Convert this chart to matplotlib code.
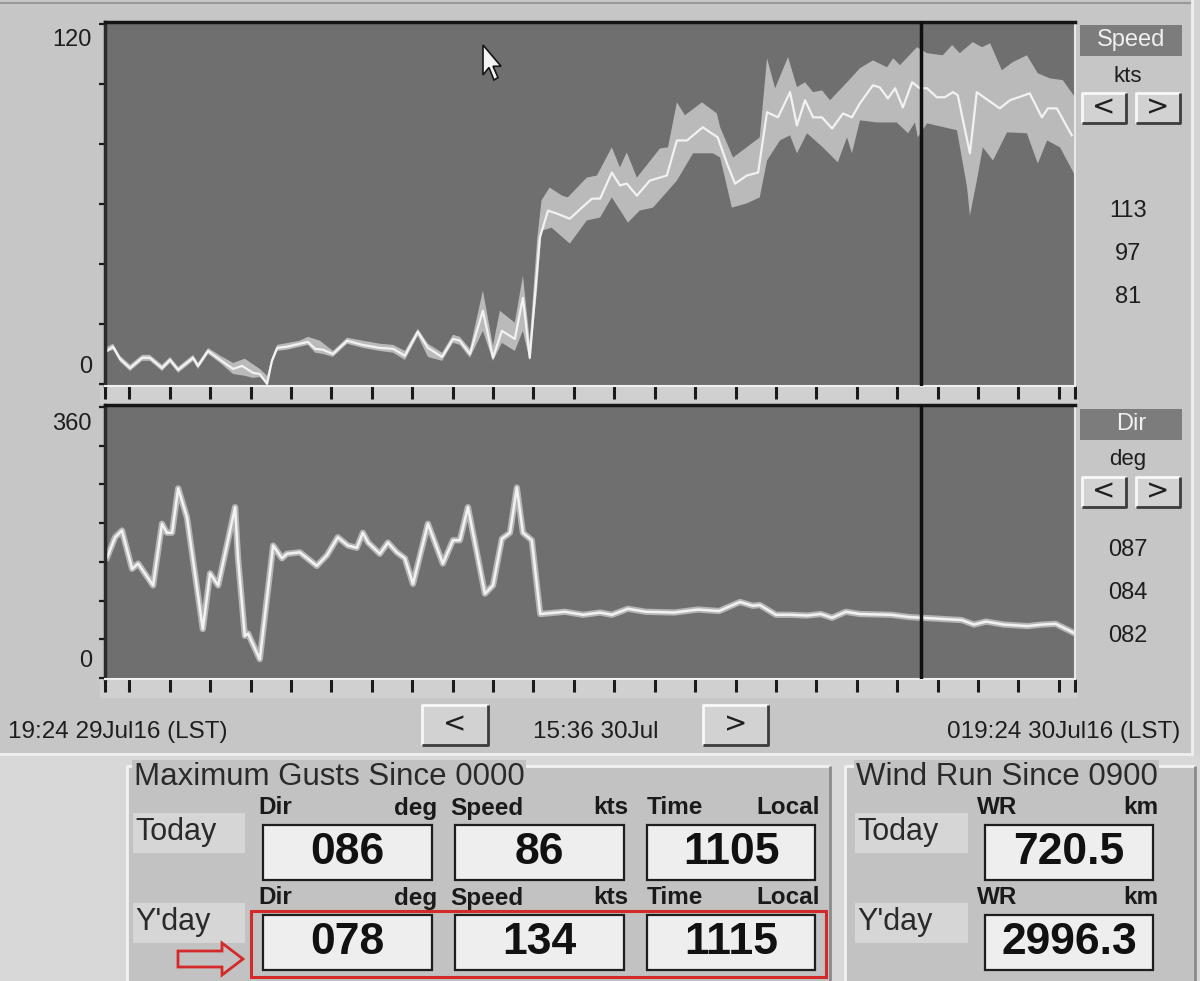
import matplotlib
matplotlib.use("Agg")
import matplotlib.pyplot as plt
from matplotlib.patches import Rectangle, Polygon
import numpy as np

plt.rcParams['font.family'] = ['Liberation Sans', 'DejaVu Sans']

# ---------------- data (hours since 19:24 29Jul16) ----------------
speed_hours = [0.05, 0.20, 0.37, 0.62, 0.92, 1.11, 1.41, 1.61, 1.81, 2.18, 2.30, 2.55, 2.85,
               3.17, 3.39, 3.66, 3.83, 4.01, 4.13, 4.26, 4.50, 4.82, 5.02, 5.20, 5.39, 5.64,
               5.99, 6.38, 6.80, 7.13, 7.42, 7.74, 7.99, 8.34, 8.61, 8.78, 9.03, 9.35, 9.60,
               9.82, 10.14, 10.34, 10.51, 10.69, 10.76, 10.96, 11.18, 11.50, 11.80, 12.05,
               12.25, 12.54, 12.74, 12.91, 13.16, 13.48, 13.90, 14.15, 14.40, 14.79, 15.16,
               15.39, 15.59, 15.88, 16.16, 16.38, 16.65, 16.95, 17.12, 17.32, 17.52, 17.74,
               17.99, 18.26, 18.48, 18.68, 19.00, 19.17, 19.37, 19.55, 19.74, 19.97, 20.16,
               20.34, 20.58, 20.78, 20.98, 21.10, 21.28, 21.40, 21.57, 21.85, 22.14, 22.39,
               22.88, 23.18, 23.33, 23.55, 23.92]
speed_kts = [11.0, 12.4, 8.4, 5.3, 8.7, 8.7, 5.3, 8.0, 4.7, 8.7, 6.0, 11.0, 8.0,
             5.0, 6.0, 3.7, 3.3, 0.0, 7.7, 12.0, 12.4, 13.4, 14.0, 11.7, 11.4, 10.0,
             14.4, 13.0, 12.0, 11.7, 9.4, 17.4, 12.0, 9.0, 15.0, 14.4, 10.0, 24.4, 8.7,
             17.7, 15.0, 28.7, 8.7, 37.8, 48.8, 57.8, 56.8, 55.1, 58.8, 61.8,
             61.8, 70.5, 66.2, 66.8, 62.8, 67.8, 69.5, 81.2, 81.2, 85.6, 82.2,
             73.5, 66.8, 69.5, 70.5, 90.6, 88.9, 97.3, 86.2, 94.6, 88.9, 88.9,
             85.2, 90.2, 88.9, 93.6, 99.6, 98.9, 95.2, 98.6, 92.2, 100.6, 98.6,
             98.6, 95.6, 95.6, 97.3, 96.3, 84.6, 76.9, 97.3, 94.6, 91.9, 94.6,
             96.9, 88.9, 91.9, 91.9, 82.9]

gust_hi_hours = [0.0, 0.20, 0.37, 0.62, 0.92, 1.11, 1.41, 1.61, 1.81, 2.18, 2.30, 2.55, 2.85,
                 3.17, 3.46, 3.83, 4.01, 4.13, 4.26, 4.82, 5.02, 5.32, 5.64, 5.99, 6.38,
                 6.80, 7.13, 7.42, 7.74, 7.99, 8.34, 8.61, 8.78, 9.03, 9.35, 9.60, 9.77,
                 10.14, 10.34, 10.51, 10.69, 10.80, 11.00, 11.31, 11.45, 11.92, 12.17,
                 12.54, 12.74, 12.91, 13.16, 13.73, 13.93, 14.15, 14.35, 14.77, 15.14,
                 15.22, 15.54, 16.20, 16.38, 16.58, 16.90, 17.12, 17.32, 17.52, 17.74,
                 17.94, 18.36, 18.68, 19.00, 19.35, 19.50, 19.67, 20.09, 20.34, 20.73,
                 20.96, 21.15, 21.47, 21.70, 21.90, 22.19, 22.46, 22.81, 23.08, 23.38,
                 23.70, 24.00]
gust_hi_kts = [12.0, 13.4, 9.4, 6.4, 9.7, 9.7, 6.4, 9.0, 5.7, 9.7, 7.0, 12.0, 9.4,
               7.0, 8.4, 5.0, 2.7, 8.7, 13.0, 14.4, 15.7, 14.4, 11.0, 15.4, 14.4,
               13.4, 13.0, 11.0, 18.4, 13.4, 10.4, 16.4, 15.7, 11.7, 31.1, 12.7, 24.4,
               20.4, 36.1, 14.4, 47.8, 61.2, 65.5, 62.8, 62.2, 68.8, 69.5,
               78.9, 72.2, 77.2, 68.8, 78.5, 78.9, 93.9, 89.6, 93.9, 90.2,
               85.6, 75.5, 82.2, 108.6, 98.6, 109.0, 99.0, 100.6, 97.3, 97.9,
               94.6, 100.6, 105.3, 107.9, 105.6, 108.6, 106.3, 112.3, 110.3, 109.6,
               113.0, 110.3, 114.0, 112.3, 113.6, 104.6, 107.3, 109.6, 103.6, 101.9,
               101.3, 95.6]

gust_lo_hours = [0.0, 0.20, 0.37, 0.62, 0.92, 1.11, 1.41, 1.61, 1.81, 2.18, 2.30, 2.55, 2.85,
                 3.17, 3.46, 3.66, 3.83, 4.01, 4.13, 4.26, 4.50, 4.82, 5.02, 5.20, 5.39,
                 5.64, 5.99, 6.38, 6.80, 7.13, 7.42, 7.74, 7.99, 8.34, 8.61, 8.78, 9.03,
                 9.35, 9.60, 9.82, 10.14, 10.34, 10.51, 10.69, 10.80, 11.05, 11.50, 11.92,
                 12.25, 12.54, 12.94, 13.23, 13.56, 14.15, 14.55, 15.04, 15.22, 15.51,
                 15.88, 16.20, 16.38, 16.70, 16.95, 17.12, 17.37, 17.76, 18.13, 18.36,
                 18.48, 18.68, 19.10, 19.59, 19.87, 20.04, 20.11, 20.34, 21.08, 21.33,
                 21.40, 21.57, 21.72, 21.97, 22.32, 22.81, 23.08, 23.31, 23.63, 24.00]
gust_lo_kts = [10.4, 11.4, 7.4, 4.3, 7.7, 7.7, 4.3, 7.0, 3.7, 7.7, 5.0, 10.0, 7.0,
               3.3, 2.7, 2.0, 2.3, 0.0, 6.7, 11.0, 11.4, 12.4, 13.0, 10.4, 10.0,
               9.0, 13.4, 12.0, 11.0, 10.4, 8.0, 16.0, 9.0, 7.7, 13.7, 13.0, 8.7,
               17.7, 7.7, 13.7, 11.0, 17.7, 7.7, 31.1, 51.1, 52.1, 46.8, 54.5,
               55.5, 62.2, 53.8, 57.8, 58.8, 67.8, 76.9, 76.9, 75.5, 58.8,
               60.2, 62.2, 74.5, 81.2, 82.9, 76.9, 83.6, 78.9, 73.9, 82.2,
               76.9, 87.9, 87.2, 87.2, 83.6, 87.2, 82.2, 86.9, 84.6, 65.5,
               56.1, 67.8, 78.9, 74.5, 83.9, 83.6, 73.5, 81.2, 78.9, 69.5]

dir_hours = [0.05, 0.25, 0.42, 0.67, 0.82, 1.19, 1.41, 1.53, 1.66, 1.81, 2.03, 2.42, 2.60,
             2.80, 3.22, 3.29, 3.46, 3.54, 3.83, 4.16, 4.38, 4.50, 4.82, 5.24, 5.49, 5.76,
             6.01, 6.23, 6.38, 6.51, 6.80, 7.00, 7.22, 7.42, 7.62, 7.99, 8.36, 8.61, 8.78,
             8.98, 9.40, 9.60, 9.82, 10.02, 10.19, 10.34, 10.56, 10.76, 10.77, 11.38,
             11.83, 12.25, 12.54, 12.94, 13.38, 14.08, 14.67, 15.19, 15.71, 16.03,
             16.20, 16.60, 16.97, 17.37, 17.71, 17.99, 18.33, 18.68, 19.45, 19.89,
             21.20, 21.50, 21.80, 22.24, 22.83, 23.18, 23.52, 23.97]
dir_deg = [160, 187, 196, 145, 152, 123, 205, 193, 193, 252, 213, 65, 139,
           123, 227, 160, 56, 59, 25, 176, 159, 165, 167, 149, 163, 187,
           176, 173, 193, 180, 165, 180, 167, 159, 125, 205, 152, 183, 183,
           227, 112, 123, 185, 193, 253, 193, 183, 89, 85, 88,
           84, 87, 84, 92, 88, 87, 91, 89, 101, 96,
           97, 84, 84, 83, 85, 80, 88, 85, 84, 81,
           77, 71, 75, 71, 69, 71, 72, 60]

cursor_hour = 20.2
hour_marks = [0.0, 0.6, 1.6, 2.6, 3.6, 4.6, 5.6, 6.6, 7.6, 8.6, 9.6, 10.6, 11.6, 12.6,
              13.6, 14.6, 15.6, 16.6, 17.6, 18.6, 19.6, 20.6, 21.6, 22.6, 23.6, 24.0]

start_label = "19:24 29Jul16 (LST)"
cursor_label = "15:36 30Jul"
end_label = "019:24 30Jul16 (LST)"
speed_scale_labels = ["113", "97", "81"]
dir_scale_labels = ["087", "084", "082"]
gust_headers = [("Dir", "deg"), ("Speed", "kts"), ("Time", "Local")]
gust_today = ["086", "86", "1105"]
gust_yday = ["078", "134", "1115"]
windrun_today = "720.5"
windrun_yday = "2996.3"

# ---------------- layout helpers ----------------
W, H = 1200, 981
fig = plt.figure(figsize=(W / 100, H / 100), dpi=100)
fig.patch.set_facecolor('#d4d4d4')

ov = fig.add_axes([0, 0, 1, 1], zorder=0)
ov.set_xlim(0, W)
ov.set_ylim(H, 0)
ov.axis('off')


def rect(x0, y0, x1, y1, fc, ec='none', lw=0, z=1):
    ov.add_patch(Rectangle((x0, y0), x1 - x0, y1 - y0, fc=fc, ec=ec, lw=lw, zorder=z))


def bevel(x0, y0, x1, y1, light='#f4f4f4', dark='#505050', lw=1.5, z=3):
    ov.plot([x0, x0, x1], [y1, y0, y0], color=light, lw=lw, zorder=z, solid_capstyle='butt')
    ov.plot([x0, x1, x1], [y1, y1, y0], color=dark, lw=lw, zorder=z, solid_capstyle='butt')


def button(x0, y0, x1, y1, label):
    rect(x0, y0, x1, y1, '#d2d2d2', z=2)
    bevel(x0, y0, x1, y1, light='#f8f8f8', dark='#3c3c3c', lw=2)
    ov.text((x0 + x1) / 2, (y0 + y1) / 2 - 1, label, ha='center', va='center',
            fontsize=20, color='#202020', family=['DejaVu Sans'], zorder=4)


def px_axes(x0, y0, x1, y1):
    return fig.add_axes([x0 / W, 1 - y1 / H, (x1 - x0) / W, (y1 - y0) / H], zorder=2)


# ---------------- window backgrounds ----------------
rect(0, 0, 1192, 754, '#c6c6c6', z=0)
ov.plot([0, 1192], [3, 3], color='#9a9a9a', lw=1.5, zorder=1)
ov.plot([1192, 1192], [0, 754], color='#f0f0f0', lw=2, zorder=1)
ov.plot([0, 1192], [754, 754], color='#f0f0f0', lw=2, zorder=1)
# tick strips
rect(100, 386, 1078, 404, '#d0d0d0', z=1)
rect(100, 679, 1078, 698, '#d0d0d0', z=1)

PANEL = '#6f6f6f'
BAND = '#bababa'
LINE = '#f2f2f2'

# ---------------- speed panel ----------------
axs = px_axes(105, 22, 1075, 386)
axs.set_facecolor(PANEL)
axs.fill(np.concatenate([gust_hi_hours, gust_lo_hours[::-1]]),
         np.concatenate([gust_hi_kts, gust_lo_kts[::-1]]), color=BAND, lw=0, zorder=1)
axs.plot(speed_hours, speed_kts, color=LINE, lw=1.6, zorder=2)
axs.axvline(cursor_hour, color='#101010', lw=2.5, zorder=3)
axs.set_xlim(0, 24)
axs.set_ylim(-0.7, 120.7)

# ---------------- direction panel ----------------
axd = px_axes(105, 405, 1075, 679)
axd.set_facecolor(PANEL)
axd.plot(dir_hours, dir_deg, color='#b4b4b4', lw=4.5, zorder=1, solid_joinstyle='round')
axd.plot(dir_hours, dir_deg, color=LINE, lw=1.8, zorder=2)
axd.axvline(cursor_hour, color='#101010', lw=2.5, zorder=3)
axd.set_xlim(0, 24)
axd.set_ylim(-1.3, 362.7)

for ax, yt in ((axs, np.arange(0, 121, 20)), (axd, np.linspace(0, 360, 8))):
    ax.set_xticks(hour_marks)
    ax.set_yticks(yt)
    ax.tick_params(axis='x', direction='out', length=9, width=2.2, color='#1a1a1a',
                   labelbottom=False, pad=0)
    ax.tick_params(axis='y', direction='out', length=4, width=1.6, color='#1a1a1a',
                   labelleft=False)
    ax.spines['top'].set_color('#151515')
    ax.spines['top'].set_linewidth(2.5)
    ax.spines['left'].set_color('#2a2a2a')
    ax.spines['left'].set_linewidth(2.5)
    ax.spines['right'].set_color('#e8e8e8')
    ax.spines['right'].set_linewidth(1.5)
    ax.spines['bottom'].set_color('#f0f0f0')
    ax.spines['bottom'].set_linewidth(1.5)

# mouse cursor (drawn in pixel space on top of the speed panel)
cur = np.array([[0, 0], [0, 24], [6, 18], [11, 28], [15, 26], [10, 17], [18, 17]], float)
cur[:, 0] += 483
cur[:, 1] = cur[:, 1] * 1.25 + 45
axs.add_patch(Polygon(cur, closed=True, fc='#f4f4f4', ec='#151515', lw=1.2,
                      transform=ov.transData, zorder=5))

# axis end labels
for txt, y in (("120", 40), ("0", 367), ("360", 424), ("0", 661)):
    ov.text(92, y, txt, ha='right', va='center', fontsize=17, color='#1e1e1e', zorder=3)

# ---------------- right side controls ----------------
for (label, unit, ytop, nums, ynums) in (("Speed", "kts", 25, speed_scale_labels, [211, 254, 297]),
                                         ("Dir", "deg", 409, dir_scale_labels, [550, 593, 636])):
    rect(1080, ytop, 1182, ytop + 31, '#7c7c7c', z=2)
    ov.text(1131, ytop + 15, label, ha='center', va='center', fontsize=17,
            color='#f0f0f0', zorder=3)
    ov.text(1128, ytop + 51, unit, ha='center', va='center', fontsize=16,
            color='#1e1e1e', zorder=3)
    button(1082, ytop + 68, 1126, ytop + 98, '<')
    button(1136, ytop + 68, 1180, ytop + 98, '>')
    for t, yy in zip(nums, ynums):
        ov.text(1128, yy, t, ha='center', va='center', fontsize=17,
                color='#1e1e1e', zorder=3)

# ---------------- time navigation row ----------------
ov.text(8, 732, start_label, ha='left', va='center', fontsize=17.5, color='#1e1e1e', zorder=3)
ov.text(596, 732, cursor_label, ha='center', va='center', fontsize=17.5, color='#1e1e1e', zorder=3)
ov.text(1180, 732, end_label, ha='right', va='center', fontsize=17.5, color='#1e1e1e', zorder=3)
button(422, 705, 488, 745, '<')
button(703, 705, 768, 745, '>')

# ---------------- bottom info panels ----------------
rect(0, 756, W, H, '#d8d8d8', z=0)
rect(127, 766, 830, H, '#c2c2c2', z=1)
bevel(127, 766, 830, H + 5, light='#f2f2f2', dark='#8a8a8a', lw=2, z=2)
rect(845, 766, 1195, H, '#c2c2c2', z=1)
bevel(845, 766, 1195, H + 5, light='#f2f2f2', dark='#8a8a8a', lw=2, z=2)

ov.text(134, 777, "Maximum Gusts Since 0000", ha='left', va='center', fontsize=22.5,
        color='#2a2a2a', zorder=4,
        bbox=dict(boxstyle='square,pad=0.05', fc='#c2c2c2', ec='none'))
ov.text(856, 777, "Wind Run Since 0900", ha='left', va='center', fontsize=22.5,
        color='#2a2a2a', zorder=4,
        bbox=dict(boxstyle='square,pad=0.05', fc='#c2c2c2', ec='none'))

for x0, x1 in ((133, 245), (855, 968)):
    rect(x0, 813, x1, 853, '#d6d6d6', z=2)
    rect(x0, 903, x1, 943, '#d6d6d6', z=2)
    ov.text(x0 + 2, 832, "Today", ha='left', va='center', fontsize=22, color='#2a2a2a', zorder=3)
    ov.text(x0 + 2, 922, "Y'day", ha='left', va='center', fontsize=22, color='#2a2a2a', zorder=3)

col_x = [(258, 437, 263, 432), (450, 628, 455, 624), (647, 820, 647, 815)]
for (hl, hr, bl, br), (h1, h2), v_t, v_y in zip(col_x, gust_headers, gust_today, gust_yday):
    for yh, yb, val in ((808, 825, v_t), (898, 915, v_y)):
        ov.text(hl, yh, h1, ha='left', va='center', fontsize=17.5, fontweight='bold',
                color='#1a1a1a', zorder=3)
        ov.text(hr, yh, h2, ha='right', va='center', fontsize=17.5, fontweight='bold',
                color='#1a1a1a', zorder=3)
        rect(bl, yb, br, yb + 55, '#eeeeee', ec='#1e1e1e', lw=1.6, z=2)
        ov.text((bl + br) / 2, yb + 28, val, ha='center', va='center', fontsize=32,
                fontweight='bold', color='#111111', zorder=3)

for yh, yb, val in ((808, 825, windrun_today), (898, 915, windrun_yday)):
    ov.text(977, yh, "WR", ha='left', va='center', fontsize=17.5, fontweight='bold',
            color='#1a1a1a', zorder=3)
    ov.text(1158, yh, "km", ha='right', va='center', fontsize=17.5, fontweight='bold',
            color='#1a1a1a', zorder=3)
    rect(985, yb, 1153, yb + 55, '#eeeeee', ec='#1e1e1e', lw=1.6, z=2)
    ov.text(1069, yb + 28, val, ha='center', va='center', fontsize=32,
            fontweight='bold', color='#111111', zorder=3)

# red highlight box and arrow
rect(251, 911, 826, 977, 'none', ec='#d42a2a', lw=2.2, z=5)
arrow = [(178, 951), (222, 951), (222, 943), (243, 959), (222, 975), (222, 967), (178, 967)]
ov.add_patch(Polygon(arrow, closed=True, fc='none', ec='#d42a2a', lw=2, zorder=5))

fig.savefig('out.png', dpi=100, facecolor=fig.get_facecolor())
